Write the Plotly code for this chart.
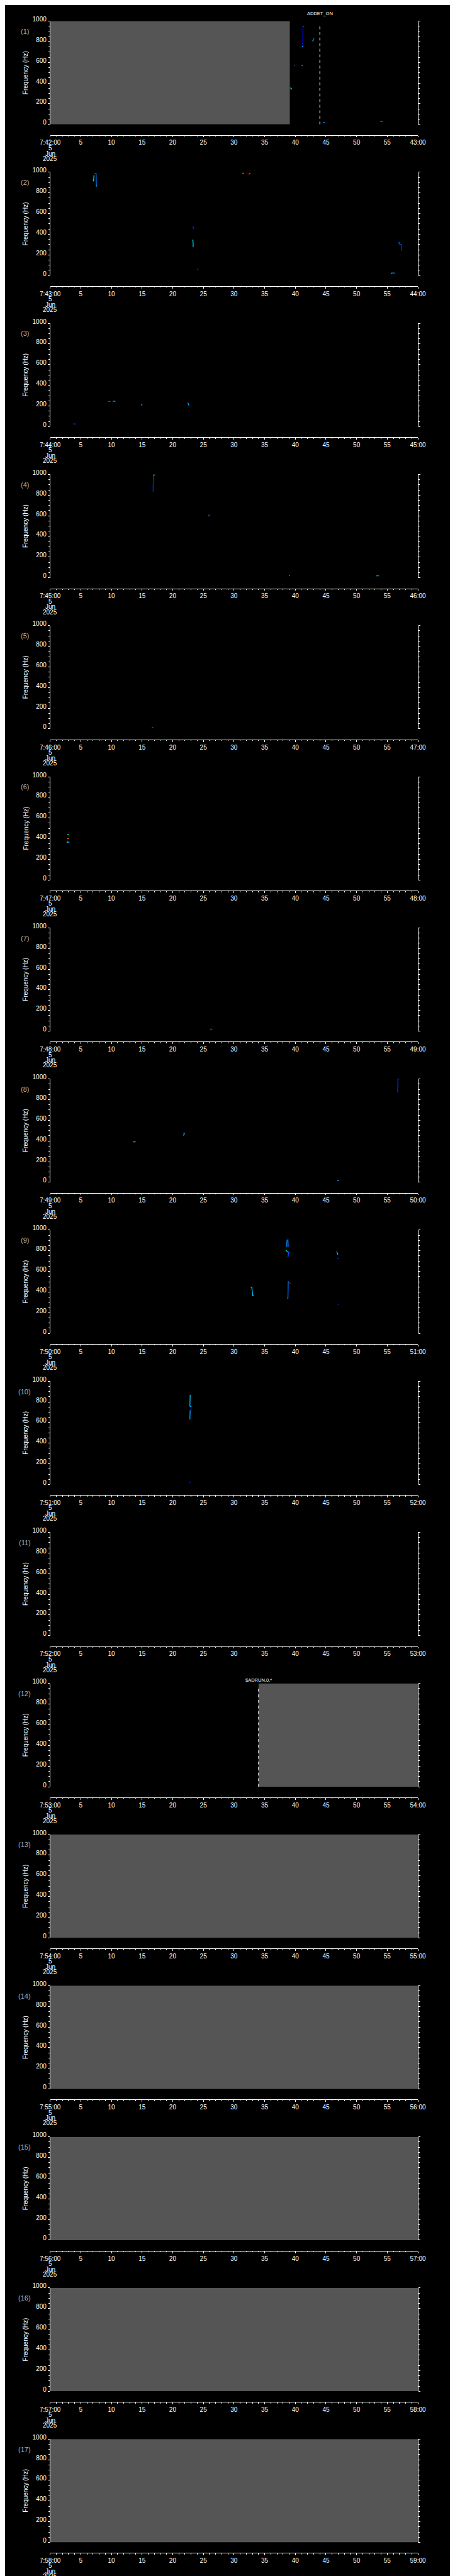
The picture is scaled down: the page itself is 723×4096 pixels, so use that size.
import plotly.graph_objects as go

# ---------------- data ----------------
panel_numbers = list(range(1, 18))
start_labels = ["7:42:00", "7:43:00", "7:44:00", "7:45:00", "7:46:00", "7:47:00",
                "7:48:00", "7:49:00", "7:50:00", "7:51:00", "7:52:00", "7:53:00",
                "7:54:00", "7:55:00", "7:56:00", "7:57:00", "7:58:00"]
end_labels = ["43:00", "44:00", "45:00", "46:00", "47:00", "48:00", "49:00", "50:00",
              "51:00", "52:00", "53:00", "54:00", "55:00", "56:00", "57:00", "58:00", "59:00"]
date_lines = ["5", "Jun", "2025"]
tick_seconds = [0, 5, 10, 15, 20, 25, 30, 35, 40, 45, 50, 55, 60]
mid_tick_labels = ["5", "10", "15", "20", "25", "30", "35", "40", "45", "50", "55"]
freq_ticks = [0, 200, 400, 600, 800, 1000]

# no-data (grey) intervals: panel, start s, end s
nodata_panel = [1, 12, 13, 14, 15, 16, 17]
nodata_t0 = [0, 34.0, 0, 0, 0, 0, 0]
nodata_t1 = [39.1, 60, 60, 60, 60, 60, 60]

# event markers
event_panel = [1, 12]
event_t = [44.0, 34.0]
event_text = ["ADDET_ON", "$ADRUN,0,*"]

# spectral features: panel, t0, t1, f0, f1, intensity level (0=blue .. 1=red)
seg_panel = [1, 1, 1, 1, 1, 1, 1, 1, 1, 1, 1, 1,
             2, 2, 2, 2, 2, 2, 2, 2, 2, 2, 2, 2, 2, 2, 2, 2, 2,
             3, 3, 3, 3, 3, 3,
             4, 4, 4, 4, 4,
             5, 5,
             6, 6, 6, 6,
             7,
             8, 8, 8, 8, 8, 8,
             9, 9, 9, 9, 9, 9, 9, 9, 9, 9, 9, 9, 9, 9, 9,
             10, 10, 10, 10, 10]
seg_t0 = [39.2, 39.8, 41.0, 41.2, 41.1, 41.2, 42.8, 42.9, 44.5, 44.6, 53.9, 54.0,
          7.0, 7.1, 7.2, 7.5, 7.5, 31.4, 32.4, 23.3, 23.2, 23.3, 24.0, 55.6, 55.7, 56.8, 57.0, 57.0, 57.3,
          9.5, 10.2, 14.8, 22.4, 22.5, 3.8,
          16.8, 16.8, 25.8, 39.0, 53.2,
          16.6, 16.7,
          2.8, 2.8, 2.7, 2.9,
          26.1,
          56.7, 56.7, 13.5, 21.7, 21.8, 46.8,
          32.7, 32.9, 33.0, 38.6, 38.8, 38.5, 38.8, 38.9, 38.7, 38.8, 38.8, 46.7, 46.8, 46.8, 46.9,
          22.8, 22.8, 22.8, 22.8, 22.7]
seg_t1 = [39.4, 39.9, 41.2, 41.2, 41.2, 41.4, 42.9, 43.0, 44.6, 44.8, 54.0, 54.2,
          7.0, 7.1, 7.4, 7.5, 7.6, 31.5, 32.6, 23.4, 23.3, 23.3, 24.1, 55.7, 56.2, 57.0, 57.0, 57.3, 57.3,
          9.8, 10.6, 15.0, 22.5, 22.6, 4.1,
          16.8, 17.1, 26.0, 39.1, 53.6,
          16.7, 16.8,
          3.0, 3.0, 2.9, 3.1,
          26.4,
          56.7, 56.9, 13.9, 21.8, 21.9, 47.1,
          32.9, 33.0, 33.2, 38.6, 38.8, 38.7, 38.9, 39.0, 38.8, 38.8, 39.2, 46.8, 46.9, 47.0, 47.1,
          22.8, 23.0, 22.8, 23.0, 22.9]
seg_f0 = [355, 578, 573, 755, 752, 948, 812, 812, 18, 18, 28, 28,
          913, 913, 985, 990, 866, 990, 978, 475, 343, 343, 60, 20, 24, 318, 318, 300, 300,
          244, 246, 211, 231, 228, 26,
          834, 996, 596, 22, 19,
          13, 13,
          445, 400, 367, 367,
          19,
          869, 1000, 391, 452, 480, 15,
          448, 448, 364, 838, 912, 805, 740, 792, 342, 342, 504, 792, 783, 727, 283,
          756, 756, 629, 716, 22]
seg_f1 = [340, 565, 573, 948, 755, 948, 805, 834, 18, 18, 28, 28,
          920, 970, 990, 866, 866, 990, 993, 450, 343, 277, 60, 24, 24, 318, 300, 300, 240,
          244, 246, 211, 228, 205, 26,
          996, 996, 611, 22, 19,
          13, 13,
          435, 400, 367, 367,
          19,
          1000, 1000, 391, 470, 465, 15,
          448, 364, 364, 905, 838, 786, 792, 780, 342, 504, 481, 783, 764, 727, 283,
          868, 756, 716, 726, 22]
seg_level = [0.5, 0.15, 0.45, 0.0, 0.45, 0.2, 0.45, 0.25, 0.95, 0.3, 0.55, 0.25,
             0.6, 0.45, 0.15, 0.25, 0.45, 0.75, 0.95, 0.1, 0.45, 0.45, 0.15, 0.55, 0.3, 0.2, 0.2, 0.2, 0.1,
             0.2, 0.3, 0.3, 0.2, 0.35, 0.15,
             0.1, 0.45, 0.2, 0.9, 0.35,
             0.95, 0.15,
             0.55, 0.9, 0.85, 0.3,
             0.25,
             0.1, 0.2, 0.4, 0.25, 0.4, 0.3,
             0.4, 0.4, 0.4, 0.3, 0.25, 0.5, 0.2, 0.2, 0.45, 0.25, 0.15, 0.3, 0.45, 0.1, 0.15,
             0.4, 0.35, 0.35, 0.15, 0.1]

# ---------------- layout geometry (reference pixels) ----------------
W, H = 723, 4096
REF_W, REF_H = 1024, 5802
SX, SY = W / REF_W, H / REF_H
N = len(panel_numbers)
SLOT = REF_H / N
X_LEFT, X_RIGHT = 80.7, 944.3
TOP_OFF, BOT_OFF, AX_OFF = 23.5, 256.8, 280.7
EVENT_LABEL_OFF = [6.5, 15.5]

FONT = "Liberation Sans, Arial, sans-serif"
GREY = "#555555"

colorscale = [(0.0, (0, 0, 220)), (0.2, (0, 90, 255)), (0.45, (0, 230, 255)),
              (0.6, (0, 255, 80)), (0.8, (255, 255, 0)), (1.0, (255, 0, 0))]


def level_color(v):
    for (a, ca), (b, cb) in zip(colorscale[:-1], colorscale[1:]):
        if v <= b:
            t = (v - a) / (b - a) if b > a else 0
            c = [round(ca[j] + (cb[j] - ca[j]) * t) for j in range(3)]
            return f"rgb({c[0]},{c[1]},{c[2]})"
    return "rgb(255,0,0)"


def py(ref_y):
    return 1 - ref_y * SY / H


def px(ref_x):
    return ref_x * SX / W


fig = go.Figure()
layout = dict(width=W, height=H, margin=dict(l=0, r=0, t=0, b=0),
              paper_bgcolor="black", plot_bgcolor="black", showlegend=False,
              font=dict(family=FONT, color="white", size=10))
annotations = []
shapes = []

for i, k in enumerate(panel_numbers):
    base = i * SLOT
    xn = "x" if k == 1 else f"x{k}"
    yn = "y" if k == 1 else f"y{k}"
    xa = "xaxis" if k == 1 else f"xaxis{k}"
    ya = "yaxis" if k == 1 else f"yaxis{k}"
    ticktext = [start_labels[i]] + mid_tick_labels + [end_labels[i]]
    layout[xa] = dict(domain=[px(X_LEFT), px(X_RIGHT)], range=[0, 60], anchor="free",
                      position=py(base + AX_OFF), showline=True, linecolor="white", linewidth=1,
                      ticks="outside", ticklen=2.8, tickwidth=1, tickcolor="white",
                      tickvals=tick_seconds, ticktext=ticktext, showgrid=False, zeroline=False,
                      tickfont=dict(family=FONT, size=10, color="white"),
                      minor=dict(dtick=1, ticks="outside", ticklen=1.5, tickcolor="white", tickwidth=1),
                      fixedrange=True)
    layout[ya] = dict(domain=[py(base + BOT_OFF), py(base + TOP_OFF)], range=[0, 1000],
                      anchor=xn, showline=True, linecolor="white", linewidth=1, mirror="ticks",
                      ticks="outside", ticklen=2.8, tickwidth=1, tickcolor="white",
                      tickvals=freq_ticks, showgrid=False, zeroline=False,
                      tickfont=dict(family=FONT, size=10, color="white"),
                      ticklabelshift=-3,
                      minor=dict(dtick=50, ticks="outside", ticklen=1.5, tickcolor="white", tickwidth=1),
                      fixedrange=True)
    # anchor trace so the axes render
    fig.add_trace(go.Scatter(x=[0, 60], y=[0, 0], mode="lines", line=dict(width=0),
                             xaxis=xn, yaxis=yn, hoverinfo="skip"))
    # panel number
    annotations.append(dict(text=f"({k})", x=px(21), y=py(base + 46.7), xref="paper", yref="paper",
                            showarrow=False, xanchor="center", yanchor="middle",
                            font=dict(family=FONT, size=11, color="#b0b0b0")))
    # y title
    annotations.append(dict(text="Frequency (Hz)", x=px(23), y=py(base + 140), xref="paper",
                            yref="paper", showarrow=False, textangle=-90, xanchor="center",
                            yanchor="middle", font=dict(family=FONT, size=10, color="white")))
    # date lines under first tick
    for line, off in zip(date_lines, [310, 322.5, 334]):
        annotations.append(dict(text=line, x=0, xref=xn, y=py(base + off), yref="paper",
                                showarrow=False, xanchor="center", yanchor="middle",
                                font=dict(family=FONT, size=10, color="white")))

# no-data regions
for p, t0, t1 in zip(nodata_panel, nodata_t0, nodata_t1):
    xn = "x" if p == 1 else f"x{p}"
    yn = "y" if p == 1 else f"y{p}"
    shapes.append(dict(type="rect", xref=xn, yref=yn, x0=t0, x1=t1, y0=0, y1=1000,
                       fillcolor=GREY, line=dict(width=0), layer="below"))

# event markers
for j, (p, t, txt) in enumerate(zip(event_panel, event_t, event_text)):
    xn = "x" if p == 1 else f"x{p}"
    yn = "y" if p == 1 else f"y{p}"
    fig.add_trace(go.Scatter(x=[t, t], y=[0, 975], mode="lines", xaxis=xn, yaxis=yn,
                             line=dict(color="white", width=1, dash="4.5px,4.4px"),
                             hoverinfo="skip"))
    base = (p - 1) * SLOT
    annotations.append(dict(text=txt, x=t, xref=xn, y=py(base + EVENT_LABEL_OFF[j]), yref="paper",
                            showarrow=False, xanchor="center", yanchor="middle",
                            font=dict(family=FONT, size=7.5, color="white")))

# spectral features
for p, t0, t1, f0, f1, lv in zip(seg_panel, seg_t0, seg_t1, seg_f0, seg_f1, seg_level):
    xn = "x" if p == 1 else f"x{p}"
    yn = "y" if p == 1 else f"y{p}"
    fig.add_trace(go.Scatter(x=[t0, t1 + 0.05], y=[f0, f1], mode="lines", xaxis=xn, yaxis=yn,
                             line=dict(color=level_color(lv), width=1.3), hoverinfo="skip"))

layout["annotations"] = annotations
layout["shapes"] = shapes
fig.update_layout(**layout)
fig.write_html("out.html")
